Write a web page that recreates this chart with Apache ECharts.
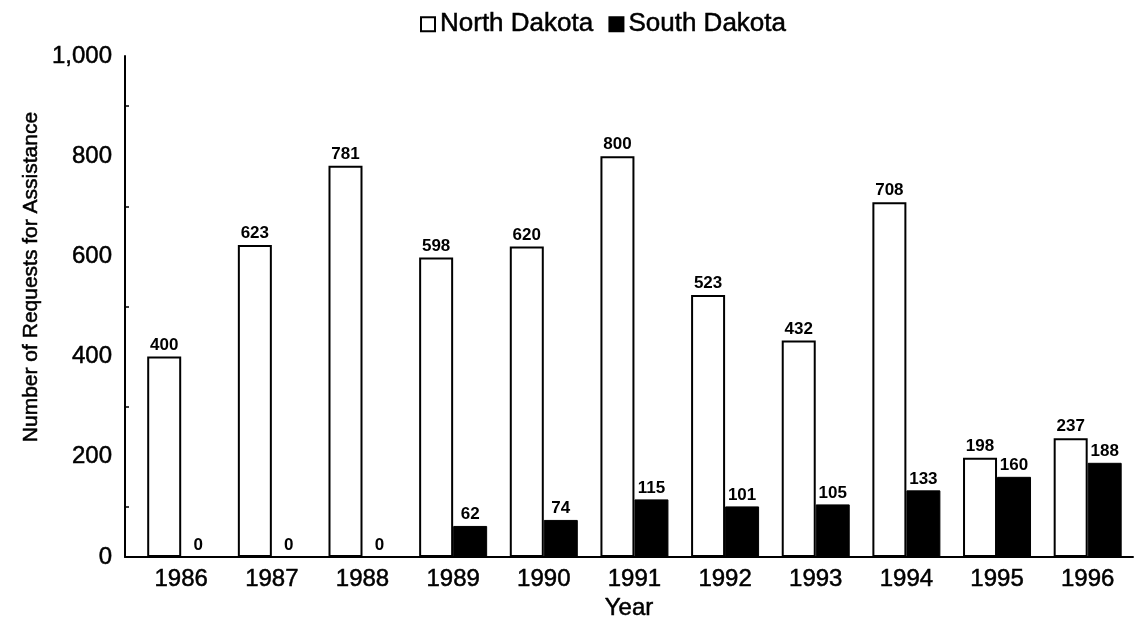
<!DOCTYPE html>
<html>
<head>
<meta charset="utf-8">
<script src="https://cdn.jsdelivr.net/npm/echarts@6/dist/echarts.min.js"></script>
<style>
html,body{margin:0;padding:0;background:#fff;}
#chart{width:1135px;height:626px;}
</style>
</head>
<body>
<div id="chart"></div>
<script>
const years = [1986, 1987, 1988, 1989, 1990, 1991, 1992, 1993, 1994, 1995, 1996];
const northDakota = [400, 623, 781, 598, 620, 800, 523, 432, 708, 198, 237];
const southDakota = [0, 0, 0, 62, 74, 115, 101, 105, 133, 160, 188];
const yMinorTicks = [100, 300, 500, 700, 900];

const FONT = '"Liberation Sans", Arial, Helvetica, sans-serif';
const HEAVY = { textBorderColor: '#000', textBorderWidth: 0.5 };
const chart = echarts.init(document.getElementById('chart'));

const pairs = (vals) => years.map((y, i) => [y, vals[i]]);

const barLabel = { show: true, position: 'top', distance: 3, fontFamily: FONT, fontSize: 17, fontWeight: 'bold', color: '#000' };

chart.setOption({
  animation: false,
  backgroundColor: '#fff',
  textStyle: { fontFamily: FONT, color: '#000' },
  legend: {
    left: 415,
    top: 6,
    icon: 'rect',
    itemWidth: 14,
    itemHeight: 14,
    itemGap: 15,
    textStyle: Object.assign({ fontFamily: FONT, fontSize: 26, color: '#000', padding: [0, 0, 0, 0] }, HEAVY),
    data: [
      { name: 'North Dakota', itemStyle: { color: '#fff', borderColor: '#000', borderWidth: 2 } },
      { name: 'South Dakota', itemStyle: { color: '#000', borderColor: '#000', borderWidth: 2 } }
    ]
  },
  grid: { left: 125, right: 2, top: 56, bottom: 69, containLabel: false },
  xAxis: {
    type: 'value',
    min: 1985.38,
    max: 1996.5,
    name: 'Year',
    nameLocation: 'middle',
    nameGap: 38,
    nameTextStyle: Object.assign({ fontFamily: FONT, fontSize: 24, color: '#000' }, HEAVY),
    splitLine: { show: false },
    axisLine: { show: true, lineStyle: { color: '#000', width: 2 } },
    axisTick: { show: false },
    axisLabel: Object.assign({
      customValues: years,
      formatter: (v) => String(v),
      fontFamily: FONT, fontSize: 24, color: '#000', margin: 10
    }, HEAVY)
  },
  yAxis: {
    type: 'value',
    min: 0,
    max: 1000,
    interval: 200,
    splitLine: { show: false },
    axisLine: { show: true, lineStyle: { color: '#000', width: 2 } },
    axisTick: { show: true, inside: true, length: 4, customValues: yMinorTicks, lineStyle: { color: '#000', width: 1.5 } },
    axisLabel: Object.assign({ fontFamily: FONT, fontSize: 24, color: '#000', margin: 13 }, HEAVY)
  },
  graphic: [{
    type: 'text',
    x: 31,
    y: 277,
    rotation: Math.PI / 2,
    style: {
      text: 'Number of Requests for Assistance',
      fontFamily: FONT,
      fontSize: 21,
      fill: '#000',
      stroke: '#000',
      lineWidth: 0.5,
      align: 'center',
      verticalAlign: 'middle'
    }
  }],
  series: [
    {
      name: 'North Dakota',
      type: 'bar',
      data: pairs(northDakota),
      barWidth: 34,
      barGap: '0%',
      itemStyle: { color: '#fff', borderColor: '#000', borderWidth: 2 },
      label: barLabel
    },
    {
      name: 'South Dakota',
      type: 'bar',
      data: pairs(southDakota),
      barWidth: 34,
      barGap: '0%',
      itemStyle: { color: '#000', borderColor: '#000', borderWidth: 1 },
      label: barLabel
    }
  ]
});
</script>
</body>
</html>
